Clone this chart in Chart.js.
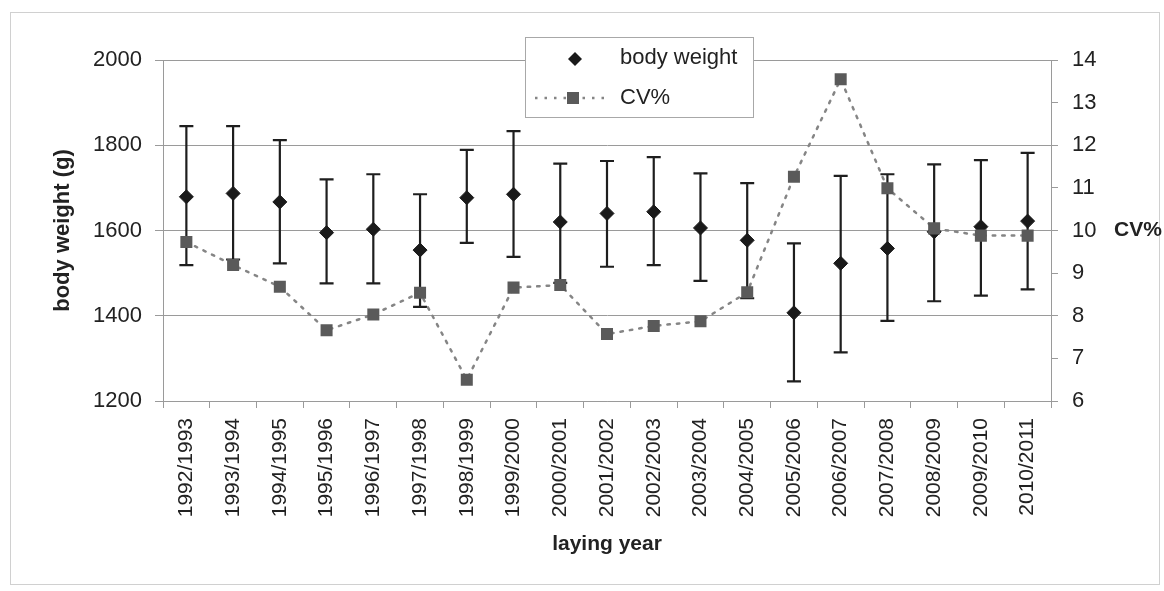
<!DOCTYPE html>
<html>
<head>
<meta charset="utf-8">
<script src="https://cdn.jsdelivr.net/npm/chart.js@4.4.1/dist/chart.umd.min.js"></script>
<style>
  html, body { margin: 0; padding: 0; background: #fff; }
  #wrap { width: 1164px; height: 591px; }
</style>
</head>
<body>
<div id="wrap"><canvas id="chart" width="1164" height="591"></canvas></div>
<script>
const years = ["1992/1993", "1993/1994", "1994/1995", "1995/1996", "1996/1997", "1997/1998",
  "1998/1999", "1999/2000", "2000/2001", "2001/2002", "2002/2003", "2003/2004", "2004/2005",
  "2005/2006", "2006/2007", "2007/2008", "2008/2009", "2009/2010", "2010/2011"];

const bodyWeight = [1679, 1687, 1667, 1595, 1603, 1554, 1677, 1685, 1620, 1640, 1644, 1606, 1577, 1407, 1523, 1558, 1597, 1609, 1622];
const bodyWeightUpper = [1845, 1845, 1812, 1720, 1732, 1685, 1789, 1833, 1757, 1763, 1772, 1734, 1711, 1570, 1728, 1732, 1755, 1765, 1782];
const bodyWeightLower = [1519, 1532, 1523, 1476, 1476, 1421, 1571, 1538, 1477, 1515, 1519, 1482, 1441, 1246, 1314, 1388, 1434, 1447, 1462];
const cvPercent = [9.73, 9.19, 8.68, 7.66, 8.03, 8.54, 6.5, 8.66, 8.72, 7.57, 7.76, 7.87, 8.55, 11.26, 13.55, 10.99, 10.05, 9.88, 9.88];

const weightTicks = [1200, 1400, 1600, 1800, 2000];
const cvTicks = [6, 7, 8, 9, 10, 11, 12, 13, 14];

const FONT = "'Liberation Sans', Arial, sans-serif";
const TEXT = "#222";
const GRID = "#9a9a9a";

// frame, error bars, legend and the flat "CV%" title
const extras = {
  id: "extras",
  beforeDraw(chart) {
    const ctx = chart.ctx;
    ctx.save();
    ctx.fillStyle = "#fff";
    ctx.fillRect(0, 0, chart.width, chart.height);
    ctx.strokeStyle = "#d0d0d0";
    ctx.lineWidth = 1;
    ctx.strokeRect(10.5, 12.5, 1149, 572);
    ctx.restore();
  },
  beforeDatasetsDraw(chart) {
    const ctx = chart.ctx;
    const x = chart.scales.x, y = chart.scales.y;
    ctx.save();
    ctx.strokeStyle = "#1e1e1e";
    ctx.lineWidth = 2.2;
    years.forEach((yr, i) => {
      const px = x.getPixelForValue(i);
      const top = y.getPixelForValue(bodyWeightUpper[i]);
      const bot = y.getPixelForValue(bodyWeightLower[i]);
      ctx.beginPath();
      ctx.moveTo(px, top); ctx.lineTo(px, bot);
      ctx.moveTo(px - 7, top); ctx.lineTo(px + 7, top);
      ctx.moveTo(px - 7, bot); ctx.lineTo(px + 7, bot);
      ctx.stroke();
    });
    ctx.restore();
  },
  afterDraw(chart) {
    const ctx = chart.ctx;
    const y1 = chart.scales.y1;
    ctx.save();
    ctx.fillStyle = TEXT;
    ctx.font = "bold 21px " + FONT;
    ctx.textBaseline = "middle";
    ctx.fillText("CV%", 1114, y1.getPixelForValue(10));

    // legend
    ctx.fillStyle = "#fff";
    ctx.fillRect(525, 37, 228, 80);
    ctx.strokeStyle = "#a8a8a8";
    ctx.lineWidth = 1;
    ctx.strokeRect(525.5, 37.5, 228, 80);

    const bw = chart.data.datasets[0], cv = chart.data.datasets[1];
    ctx.fillStyle = bw.pointBackgroundColor;
    ctx.beginPath();
    ctx.moveTo(575, 52); ctx.lineTo(582, 59); ctx.lineTo(575, 66); ctx.lineTo(568, 59);
    ctx.closePath();
    ctx.fill();

    ctx.strokeStyle = cv.borderColor;
    ctx.lineWidth = cv.borderWidth;
    ctx.setLineDash(cv.borderDash);
    ctx.beginPath();
    ctx.moveTo(535, 98); ctx.lineTo(611, 98);
    ctx.stroke();
    ctx.setLineDash([]);
    ctx.fillStyle = cv.pointBackgroundColor;
    ctx.fillRect(567, 92, 12, 12);

    ctx.fillStyle = TEXT;
    ctx.font = "22px " + FONT;
    ctx.fillText(bw.label, 620, 58);
    ctx.fillText(cv.label, 620, 98);
    ctx.restore();
  }
};

new Chart(document.getElementById("chart"), {
  type: "line",
  data: {
    labels: years,
    datasets: [
      {
        label: "body weight",
        data: bodyWeight,
        yAxisID: "y",
        showLine: false,
        pointStyle: "rectRot",
        pointRadius: 7,
        pointBackgroundColor: "#1a1a1a",
        pointBorderColor: "#1a1a1a",
        pointBorderWidth: 1,
        order: 2
      },
      {
        label: "CV%",
        data: cvPercent,
        yAxisID: "y1",
        borderColor: "#858585",
        borderWidth: 2.5,
        borderDash: [2.5, 7],
        borderCapStyle: "round",
        pointStyle: "rect",
        pointRadius: 8.5,
        pointBackgroundColor: "#5a5a5a",
        pointBorderColor: "#5a5a5a",
        pointBorderWidth: 0,
        order: 1
      }
    ]
  },
  options: {
    responsive: false,
    animation: false,
    layout: { padding: { top: 60, left: 0, right: 0, bottom: 0 } },
    plugins: { legend: { display: false }, tooltip: { enabled: false } },
    scales: {
      x: {
        offset: true,
        grid: { offset: true, drawOnChartArea: false, color: GRID, tickLength: 7 },
        border: { color: GRID },
        ticks: {
          minRotation: 90, maxRotation: 90, padding: 10, autoSkip: false,
          color: TEXT, font: { family: FONT, size: 21 }
        },
        title: {
          display: true, text: "laying year", color: TEXT,
          font: { family: FONT, size: 21, weight: "bold" },
          padding: { top: 0, bottom: 34 }
        },
        afterFit(scale) { scale.height = 190; }
      },
      y: {
        position: "left",
        min: 1200, max: 2000,
        afterBuildTicks(scale) { scale.ticks = weightTicks.map(v => ({ value: v })); },
        grid: { color: GRID, tickLength: 8 },
        border: { color: GRID },
        ticks: {
          padding: 13, color: TEXT, font: { family: FONT, size: 22 },
          callback: v => String(v)
        },
        title: {
          display: true, text: "body weight (g)", color: TEXT,
          font: { family: FONT, size: 22, weight: "bold" },
          padding: { top: 50, bottom: 0 }
        },
        afterFit(scale) { scale.width = 163; }
      },
      y1: {
        position: "right",
        min: 6, max: 14,
        afterBuildTicks(scale) { scale.ticks = cvTicks.map(v => ({ value: v })); },
        grid: { drawOnChartArea: false, color: GRID, tickLength: 7 },
        border: { color: GRID },
        ticks: {
          padding: 14, color: TEXT, font: { family: FONT, size: 22 },
          callback: v => String(v)
        },
        afterFit(scale) { scale.width = 113; }
      }
    }
  },
  plugins: [extras]
});
</script>
</body>
</html>
